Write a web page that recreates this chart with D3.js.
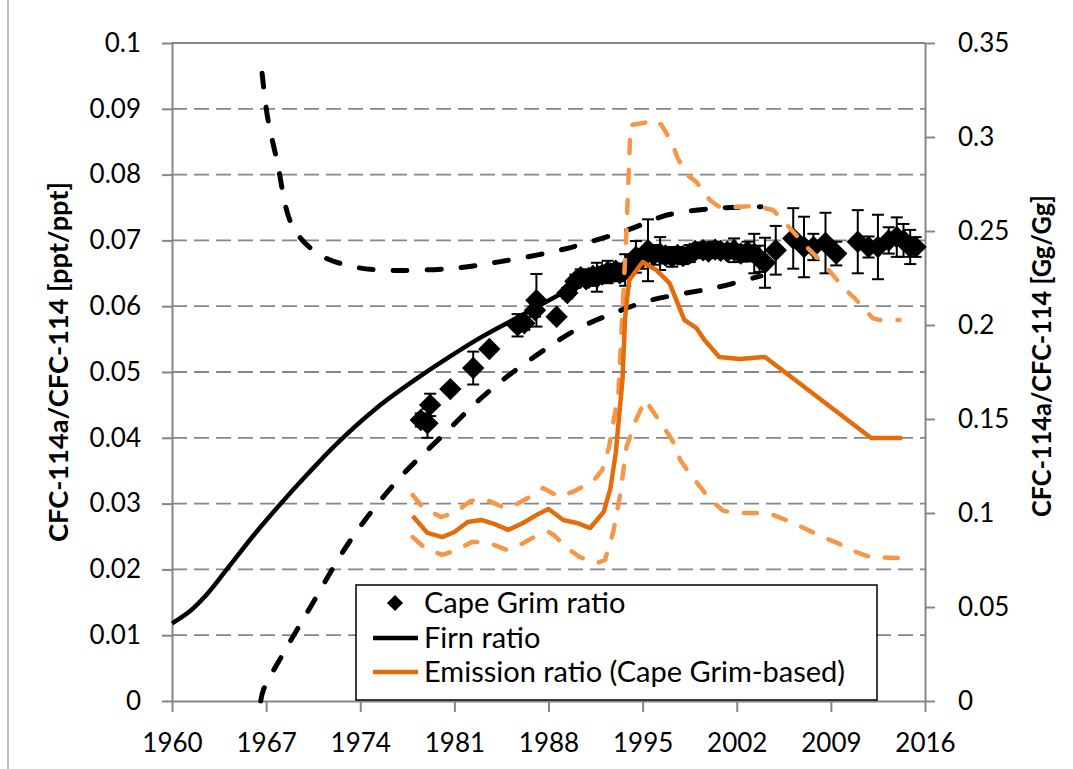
<!doctype html>
<html>
<head>
<meta charset="utf-8">
<style>
  body { margin: 0; background: #fff; }
  text { font-family: Lato, "Open Sans", sans-serif; }
</style>
<script src="https://d3js.org/d3.v7.min.js"></script>
</head>
<body>
<svg width="1073" height="769" class="svg1"></svg>
<script>
// ---- data ----
var xTicks = [1960, 1967, 1974, 1981, 1988, 1995, 2002, 2009, 2016];
var leftTicks = [0, 0.01, 0.02, 0.03, 0.04, 0.05, 0.06, 0.07, 0.08, 0.09, 0.1];
var rightTicks = [0, 0.05, 0.1, 0.15, 0.2, 0.25, 0.3, 0.35];

// Cape Grim ratio (left axis) with error
var cgYears = [1978.5, 1979.0, 1979.2, 1980.7, 1982.4, 1983.6, 1985.7, 1986.2, 1987.0, 1987.1, 1988.6, 1989.4,
  1990.0, 1990.4, 1990.8, 1991.0, 1991.3, 1991.6, 1992.0, 1992.4, 1992.6, 1993.0, 1993.3, 1993.7, 1994.1, 1994.5,
  1994.9, 1995.4, 1995.8, 1996.3, 1996.7, 1997.2, 1997.6, 1998.0, 1998.5, 1998.9, 1999.5, 1999.9, 2000.4, 2000.8,
  2001.3, 2001.8, 2002.3, 2002.8, 2003.3, 2003.7, 2004.1, 2004.9, 2006.2, 2007.0, 2007.7, 2008.6, 2009.4, 2011.0,
  2011.8, 2012.5, 2013.3, 2013.9, 2014.4, 2014.9, 2015.3];
var cgRatio = [0.0427, 0.0422, 0.0450, 0.0474, 0.0506, 0.0535, 0.0571, 0.0574, 0.0594, 0.0609, 0.0584, 0.0620,
  0.0638, 0.0644, 0.0641, 0.0643, 0.0646, 0.0644, 0.0648, 0.0652, 0.0650, 0.0654, 0.0650, 0.0655, 0.0662, 0.0675,
  0.0672, 0.0685, 0.0678, 0.0680, 0.0677, 0.0675, 0.0678, 0.0676, 0.0680, 0.0684, 0.0685, 0.0683, 0.0686, 0.0684,
  0.0683, 0.0685, 0.0680, 0.0683, 0.0680, 0.0672, 0.0666, 0.0685, 0.0703, 0.0690, 0.0690, 0.0696, 0.0680, 0.0698,
  0.0690, 0.0690, 0.0700, 0.0705, 0.0700, 0.0690, 0.0690];
var cgError = [0.0010, 0.0022, 0.0017, 0.0005, 0.0025, 0.0005, 0.0017, 0.0010, 0.0010, 0.0040, 0.0005, 0.0008,
  0.0010, 0.0012, 0.0010, 0.0012, 0.0010, 0.0022, 0.0012, 0.0017, 0.0012, 0.0010, 0.0012, 0.0024, 0.0012, 0.0024,
  0.0015, 0.0047, 0.0015, 0.0025, 0.0012, 0.0015, 0.0012, 0.0012, 0.0013, 0.0010, 0.0012, 0.0010, 0.0012, 0.0010,
  0.0010, 0.0018, 0.0012, 0.0015, 0.0030, 0.0020, 0.0038, 0.0037, 0.0046, 0.0046, 0.0020, 0.0046, 0.0018, 0.0048,
  0.0016, 0.0049, 0.0020, 0.0030, 0.0025, 0.0026, 0.0015];

// Firn ratio (left axis): central estimate and bounds
var firnYears = [1960, 1961.3, 1962.5, 1964.0, 1966.0, 1968.0, 1970.0, 1972.3, 1975.2, 1978.2, 1980.4, 1983.0, 1985.9, 1990.3, 1993.0, 1995.0];
var firnRatio = [0.0118, 0.0136, 0.0160, 0.0198, 0.0250, 0.0298, 0.0343, 0.0392, 0.0445, 0.0490, 0.0520, 0.0553, 0.0585, 0.0633, 0.0655, 0.0668];
var firnUpYears = [1966.7, 1967.1, 1967.8, 1969.0, 1971.0, 1973.3, 1975.5, 1980.5, 1984.2, 1989.2, 1993.9, 1996.9, 2000.6, 2003.8];
var firnUp = [0.0954, 0.0888, 0.0822, 0.0720, 0.0678, 0.0661, 0.0655, 0.0657, 0.0667, 0.0687, 0.0716, 0.0739, 0.0749, 0.0751];
var firnLoYears = [1966.6, 1966.8, 1968.3, 1970.3, 1973.3, 1976.8, 1980.0, 1983.7, 1988.0, 1990.4, 1992.9, 1995.6, 2000.6, 2003.8];
var firnLo = [0.0, 0.0017, 0.0073, 0.0143, 0.0245, 0.0336, 0.0401, 0.0473, 0.0538, 0.0568, 0.0590, 0.0609, 0.0629, 0.0646];

// Emission ratio (right axis): central and bounds
var emYears = [1977.9, 1979.0, 1980.1, 1981.0, 1982.0, 1983.0, 1984.0, 1985.0, 1986.1, 1987.1, 1988.0, 1989.1, 1990.1,
  1991.1, 1992.1, 1992.6, 1993.0, 1993.5, 1993.7, 1994.0, 1995.0, 1996.0, 1997.0, 1998.1, 1999.0, 1999.6, 2000.7,
  2002.2, 2004.1, 2012.0, 2014.3];
var emRatio = [0.0984, 0.0894, 0.0872, 0.0899, 0.0952, 0.0963, 0.0941, 0.0910, 0.0947, 0.0989, 0.1021, 0.0963, 0.0947,
  0.0920, 0.1005, 0.1130, 0.1319, 0.1707, 0.2043, 0.2239, 0.2335, 0.2293, 0.2223, 0.2027, 0.1984, 0.1920, 0.1830,
  0.1819, 0.1830, 0.1399, 0.1399];
var emUpYears = [1977.9, 1978.7, 1980.0, 1981.0, 1982.2, 1983.2, 1984.6, 1985.1, 1986.6, 1987.6, 1988.8, 1989.8, 1990.8,
  1991.4, 1992.0, 1992.5, 1993.2, 1993.8, 1994.1, 1995.5, 1996.0, 1996.4, 1997.2, 1997.6, 1998.3, 1999.0, 2000.0,
  2000.7, 2002.0, 2003.3, 2004.7, 2005.4, 2007.2, 2008.4, 2009.9, 2010.9, 2012.1, 2012.6, 2014.1];
var emUp = [0.1096, 0.1026, 0.0979, 0.1000, 0.1064, 0.1075, 0.1032, 0.1027, 0.1085, 0.1133, 0.1085, 0.1112, 0.1150,
  0.1176, 0.1229, 0.1351, 0.1638, 0.2500, 0.3064, 0.3080, 0.3090, 0.3064, 0.2968, 0.2888, 0.2798, 0.2761, 0.2665,
  0.2628, 0.2628, 0.2633, 0.2612, 0.2559, 0.2415, 0.2330, 0.2202, 0.2133, 0.2037, 0.2027, 0.2027];
var emLoYears = [1977.9, 1978.8, 1980.1, 1981.2, 1982.3, 1983.1, 1983.6, 1984.9, 1986.0, 1987.2, 1988.0, 1988.4, 1989.3,
  1990.3, 1991.6, 1992.2, 1992.8, 1993.3, 1993.8, 1994.5, 1995.2, 1995.8, 1996.6, 1997.2, 1997.8, 1998.3, 1999.3,
  1999.9, 2001.0, 2002.3, 2004.2, 2004.7, 2006.2, 2008.4, 2009.5, 2010.9, 2011.9, 2014.1];
var emLo = [0.0872, 0.0814, 0.0777, 0.0803, 0.0846, 0.0846, 0.0840, 0.0803, 0.0835, 0.0883, 0.0899, 0.0883, 0.0819,
  0.0766, 0.0734, 0.0750, 0.0894, 0.1085, 0.1351, 0.1495, 0.1601, 0.1537, 0.1452, 0.1388, 0.1282, 0.1229, 0.1138,
  0.1080, 0.1011, 0.1000, 0.1000, 0.0990, 0.0947, 0.0872, 0.0840, 0.0792, 0.0766, 0.0760];

var legendLabels = ["Cape Grim ratio", "Firn ratio", "Emission ratio (Cape Grim-based)"];

// ---- layout ----
var svg = d3.select(".svg1"),
    plotL = 172, plotR = 925, plotT = 43, plotB = 701;

var x = d3.scaleLinear().domain([1960, 2016]).range([plotL, plotR]);
var yL = d3.scaleLinear().domain([0, 0.1]).range([plotB, plotT]);
var yR = d3.scaleLinear().domain([0, 0.35]).range([plotB, plotT]);

var axisGrey = "#868686";

// chart frame (left edge visible)
svg.append("line").attr("x1", 8).attr("x2", 8).attr("y1", 0).attr("y2", 769)
   .attr("stroke", "#a6a6a6").attr("stroke-width", 1.5);

// gridlines
svg.append("g").selectAll("line")
   .data(leftTicks.filter(function(d) { return d > 0 && d < 0.1; }))
   .enter().append("line")
   .attr("x1", plotL).attr("x2", plotR)
   .attr("y1", function(d) { return yL(d); })
   .attr("y2", function(d) { return yL(d); })
   .attr("stroke", axisGrey).attr("stroke-width", 1.8)
   .attr("stroke-dasharray", "15,7");

// plot border top
svg.append("line").attr("x1", plotL).attr("x2", plotR).attr("y1", plotT).attr("y2", plotT)
   .attr("stroke", axisGrey).attr("stroke-width", 2);

// axes
function styleAxis(g) {
  g.select(".domain").attr("stroke", axisGrey).attr("stroke-width", 2);
  g.selectAll(".tick line").attr("stroke", axisGrey).attr("stroke-width", 2);
  g.selectAll(".tick text").attr("fill", "#000").style("font-size", "26px")
   .style("font-family", "Lato, sans-serif");
}
function fmt(d) { return d3.format("~g")(+d.toFixed(2)); }

svg.append("g")
   .attr("transform", "translate(0," + plotB + ")")
   .call(d3.axisBottom(x).tickValues(xTicks).tickFormat(d3.format("d"))
         .tickSizeInner(11).tickSizeOuter(0).tickPadding(22))
   .call(styleAxis);

svg.append("g")
   .attr("transform", "translate(" + plotL + ",0)")
   .call(d3.axisLeft(yL).tickValues(leftTicks).tickFormat(fmt)
         .tickSizeInner(10).tickSizeOuter(0).tickPadding(21))
   .call(styleAxis);

svg.append("g")
   .attr("transform", "translate(" + plotR + ",0)")
   .call(d3.axisRight(yR).tickValues(rightTicks).tickFormat(fmt)
         .tickSizeInner(10).tickSizeOuter(0).tickPadding(23))
   .call(styleAxis);

// axis titles
svg.append("text")
   .attr("transform", "translate(68,362) rotate(-90)")
   .attr("text-anchor", "middle")
   .attr("font-size", "27px").attr("font-weight", "bold")
   .attr("textLength", 360).attr("lengthAdjust", "spacingAndGlyphs")
   .text("CFC-114a/CFC-114 [ppt/ppt]");

svg.append("text")
   .attr("transform", "translate(1051,356) rotate(-90)")
   .attr("text-anchor", "middle")
   .attr("font-size", "27px").attr("font-weight", "bold")
   .attr("textLength", 322).attr("lengthAdjust", "spacingAndGlyphs")
   .text("CFC-114a/CFC-114 [Gg/Gg]");

// ---- Cape Grim ratio: error bars + diamonds ----
var cg = cgYears.map(function(yr, i) { return { year: yr, v: cgRatio[i], e: cgError[i] }; });

var eb = svg.append("g").attr("stroke", "#000").attr("stroke-width", 2);
cg.forEach(function(d) {
  if (d.e < 0.0006) return;
  var cx = x(d.year), y1 = yL(d.v + d.e), y2 = yL(d.v - d.e);
  eb.append("line").attr("x1", cx).attr("x2", cx).attr("y1", y1).attr("y2", y2);
  eb.append("line").attr("x1", cx - 6).attr("x2", cx + 6).attr("y1", y1).attr("y2", y1);
  eb.append("line").attr("x1", cx - 6).attr("x2", cx + 6).attr("y1", y2).attr("y2", y2);
});

var diamond = d3.symbol().type(d3.symbolSquare).size(250);
svg.append("g").selectAll("path")
   .data(cg).enter().append("path")
   .attr("d", diamond)
   .attr("transform", function(d) { return "translate(" + x(d.year) + "," + yL(d.v) + ") rotate(45)"; })
   .attr("fill", "#000");

// ---- Firn ratio ----
function series(xs, ys, yScale) {
  return xs.map(function(yr, i) { return [x(yr), yScale(ys[i])]; });
}
var smooth = d3.line().curve(d3.curveCatmullRom.alpha(0.5));
var poly = d3.line();

svg.append("path").attr("d", smooth(series(firnYears, firnRatio, yL)))
   .attr("fill", "none").attr("stroke", "#000").attr("stroke-width", 4.5);

[[firnUpYears, firnUp], [firnLoYears, firnLo]].forEach(function(s) {
  svg.append("path").attr("d", smooth(series(s[0], s[1], yL)))
     .attr("fill", "none").attr("stroke", "#000").attr("stroke-width", 5)
     .attr("stroke-linecap", "round").attr("stroke-dasharray", "14,20");
});

// ---- Emission ratio (right axis) ----
[[emUpYears, emUp], [emLoYears, emLo]].forEach(function(s) {
  svg.append("path").attr("d", poly(series(s[0], s[1], yR)))
     .attr("fill", "none").attr("stroke", "#F79646").attr("stroke-width", 4.5)
     .attr("stroke-linecap", "round").attr("stroke-linejoin", "round")
     .attr("stroke-dasharray", "13,17");
});

svg.append("path").attr("d", poly(series(emYears, emRatio, yR)))
   .attr("fill", "none").attr("stroke", "#E46C0A").attr("stroke-width", 4.5)
   .attr("stroke-linejoin", "round");

// ---- legend ----
var lg = svg.append("g");
lg.append("rect").attr("x", 356).attr("y", 585).attr("width", 521).attr("height", 115)
  .attr("fill", "#fff").attr("stroke", "#000").attr("stroke-width", 1.5);

var rowY = [603, 638, 672];
lg.append("path").attr("d", d3.symbol().type(d3.symbolSquare).size(130)())
  .attr("transform", "translate(395," + rowY[0] + ") rotate(45)").attr("fill", "#000");
lg.append("line").attr("x1", 373).attr("x2", 418).attr("y1", rowY[1]).attr("y2", rowY[1])
  .attr("stroke", "#000").attr("stroke-width", 4.5);
lg.append("line").attr("x1", 373).attr("x2", 418).attr("y1", rowY[2]).attr("y2", rowY[2])
  .attr("stroke", "#E46C0A").attr("stroke-width", 4.5);

lg.selectAll("text.lbl").data(legendLabels).enter().append("text")
  .attr("class", "lbl")
  .attr("x", 424)
  .attr("y", function(d, i) { return rowY[i]; })
  .attr("dy", "0.36em")
  .attr("font-size", "29px")
  .attr("fill", "#000")
  .text(function(d) { return d; });
</script>
</body>
</html>
